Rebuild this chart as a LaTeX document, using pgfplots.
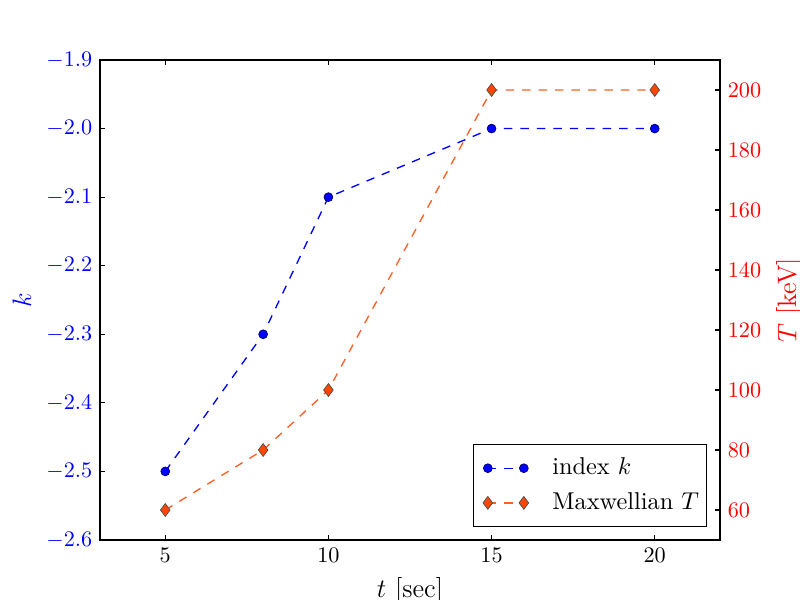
\documentclass[border=0pt]{standalone}
\usepackage{pgfplots}
\pgfplotsset{compat=1.18}
\definecolor{ored}{RGB}{255,69,0}
\definecolor{oline}{RGB}{255,95,35}
\begin{document}
\begin{tikzpicture}
\path[use as bounding box] (-45pt,-27pt) rectangle (315pt,243pt);
\pgfplotsset{
  every axis/.append style={
    width=279pt, height=216pt, scale only axis,
    xmin=3, xmax=22,
    major tick length=2.2pt,
    tick align=inside,
    tick style={black, line width=0.5pt},
    label style={font=\large},
  },
}
\begin{axis}[
  axis line style={line width=0.6pt},
  ymin=-2.6, ymax=-1.9,
  xtick={5,10,15,20},
  ytick={-2.6,-2.5,-2.4,-2.3,-2.2,-2.1,-2.0,-1.9},
  ytick pos=left,
  xtick pos=both,
  yticklabel style={blue, /pgf/number format/fixed, /pgf/number format/fixed zerofill, /pgf/number format/precision=1},
  xlabel={$t$ [sec]},
  ylabel={$k$},
  ylabel style={blue},
]
\addplot[blue, line width=0.6pt, dash pattern=on 3.8pt off 3.6pt, mark=*, mark size=2pt, mark options={solid, fill=blue, draw=blue!40!black, line width=0.3pt}]
  coordinates {(5,-2.5) (8,-2.3) (10,-2.1) (15,-2.0) (20,-2.0)};
\end{axis}
\begin{axis}[
  axis y line*=right,
  axis x line=none,
  tick align=inside,
  ymin=50, ymax=210,
  ytick={60,80,100,120,140,160,180,200},
  yticklabel style={red},
  ylabel={$T$ [keV]},
  ylabel style={red},
  legend style={at={(1,0)}, anchor=south east, xshift=-5.85pt, yshift=5.85pt,
    draw=black, line width=0.6pt, font=\fontsize{10.95}{13.6}\selectfont, row sep=2.5pt, inner xsep=1.3pt, inner ysep=4pt},
  legend cell align=left,
  legend image code/.code={\path[draw=none,fill=none] (-5.1pt,-0.5pt) rectangle (27pt,0.5pt); \draw[#1] plot coordinates {(0pt,0pt) (16.2pt,0pt)};},
]
\addlegendimage{blue, line width=0.6pt, dash pattern=on 3.8pt off 3.6pt, mark=*, mark size=2pt, mark options={solid, fill=blue, draw=blue!40!black, line width=0.3pt}}
\addlegendentry{index $k$}
\addplot[oline, line width=0.6pt, dash pattern=on 3.8pt off 3.6pt, mark=diamond*, mark size=2.9pt, mark options={solid, fill=ored, draw=black!70, line width=0.3pt}]
  coordinates {(5,60) (8,80) (10,100) (15,200) (20,200)};
\addlegendentry{Maxwellian $T$}
\end{axis}
\end{tikzpicture}
\end{document}
